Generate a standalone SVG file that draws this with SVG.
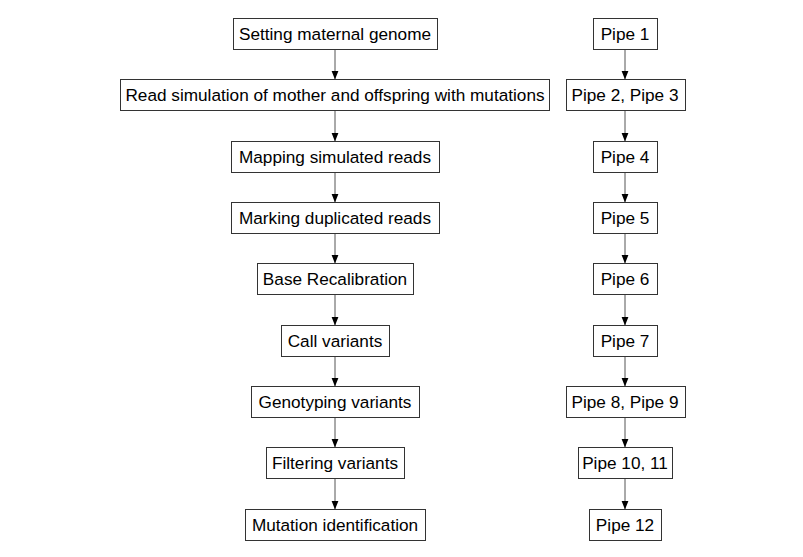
<svg xmlns="http://www.w3.org/2000/svg" width="803" height="557" viewBox="0 0 803 557">
<defs>
<style>
.box{fill:#fff;stroke:#333;stroke-width:1}
.lbl{font-family:"Liberation Sans",Arial,Helvetica,sans-serif;font-size:17.2px;fill:#000;text-anchor:middle}
.edge{stroke:#555;stroke-width:1;fill:none;marker-end:url(#ah)}
</style>
<marker id="ah" viewBox="0 0 10 10" refX="10" refY="5" markerWidth="9" markerHeight="9" markerUnits="userSpaceOnUse" orient="auto">
<path d="M0,1 L10,5 L0,9 Z" fill="#000"/>
</marker>
</defs>
<rect width="803" height="557" fill="#fff"/>
<g id="connectors">
<line class="edge" x1="335" y1="49.5" x2="335" y2="79.5"/>
<line class="edge" x1="335" y1="110.5" x2="335" y2="141.5"/>
<line class="edge" x1="335" y1="172.5" x2="335" y2="202.5"/>
<line class="edge" x1="335" y1="233.5" x2="335" y2="263.5"/>
<line class="edge" x1="335" y1="294.5" x2="335" y2="325.5"/>
<line class="edge" x1="335" y1="356.5" x2="335" y2="386.5"/>
<line class="edge" x1="335" y1="417.5" x2="335" y2="447.5"/>
<line class="edge" x1="335" y1="478.5" x2="335" y2="509.5"/>
<line class="edge" x1="625" y1="49.5" x2="625" y2="79.5"/>
<line class="edge" x1="625" y1="110.5" x2="625" y2="141.5"/>
<line class="edge" x1="625" y1="172.5" x2="625" y2="202.5"/>
<line class="edge" x1="625" y1="233.5" x2="625" y2="263.5"/>
<line class="edge" x1="625" y1="294.5" x2="625" y2="325.5"/>
<line class="edge" x1="625" y1="356.5" x2="625" y2="386.5"/>
<line class="edge" x1="625" y1="417.5" x2="625" y2="447.5"/>
<line class="edge" x1="625" y1="478.5" x2="625" y2="509.5"/>
</g>
<g id="n1"><rect class="box" x="233.5" y="18.5" width="204" height="31"/><text class="lbl" x="335" y="40.2">Setting maternal genome</text></g>
<g id="n2"><rect class="box" x="120.5" y="79.5" width="429" height="31"/><text class="lbl" x="335" y="101.2">Read simulation of mother and offspring with mutations</text></g>
<g id="n3"><rect class="box" x="231.5" y="141.5" width="208" height="31"/><text class="lbl" x="335" y="163.2">Mapping simulated reads</text></g>
<g id="n4"><rect class="box" x="231.5" y="202.5" width="208" height="31"/><text class="lbl" x="335" y="224.2">Marking duplicated reads</text></g>
<g id="n5"><rect class="box" x="257.5" y="263.5" width="156" height="31"/><text class="lbl" x="335" y="285.2">Base Recalibration</text></g>
<g id="n6"><rect class="box" x="281.5" y="325.5" width="108" height="31"/><text class="lbl" x="335" y="347.2">Call variants</text></g>
<g id="n7"><rect class="box" x="251.5" y="386.5" width="168" height="31"/><text class="lbl" x="335" y="408.2">Genotyping variants</text></g>
<g id="n8"><rect class="box" x="266.5" y="447.5" width="138" height="31"/><text class="lbl" x="335" y="469.2">Filtering variants</text></g>
<g id="n9"><rect class="box" x="245.5" y="509.5" width="180" height="31"/><text class="lbl" x="335" y="531.2">Mutation identification</text></g>
<g id="p1"><rect class="box" x="593.5" y="18.5" width="64" height="31"/><text class="lbl" x="625" y="40.2">Pipe 1</text></g>
<g id="p2"><rect class="box" x="566.5" y="79.5" width="119" height="31"/><text class="lbl" x="625" y="101.2">Pipe 2, Pipe 3</text></g>
<g id="p3"><rect class="box" x="593.5" y="141.5" width="64" height="31"/><text class="lbl" x="625" y="163.2">Pipe 4</text></g>
<g id="p4"><rect class="box" x="593.5" y="202.5" width="64" height="31"/><text class="lbl" x="625" y="224.2">Pipe 5</text></g>
<g id="p5"><rect class="box" x="593.5" y="263.5" width="64" height="31"/><text class="lbl" x="625" y="285.2">Pipe 6</text></g>
<g id="p6"><rect class="box" x="593.5" y="325.5" width="64" height="31"/><text class="lbl" x="625" y="347.2">Pipe 7</text></g>
<g id="p7"><rect class="box" x="566.5" y="386.5" width="119" height="31"/><text class="lbl" x="625" y="408.2">Pipe 8, Pipe 9</text></g>
<g id="p8"><rect class="box" x="578.5" y="447.5" width="94" height="31"/><text class="lbl" x="625" y="469.2">Pipe 10, 11</text></g>
<g id="p9"><rect class="box" x="589.5" y="509.5" width="72" height="31"/><text class="lbl" x="625" y="531.2">Pipe 12</text></g>
</svg>
